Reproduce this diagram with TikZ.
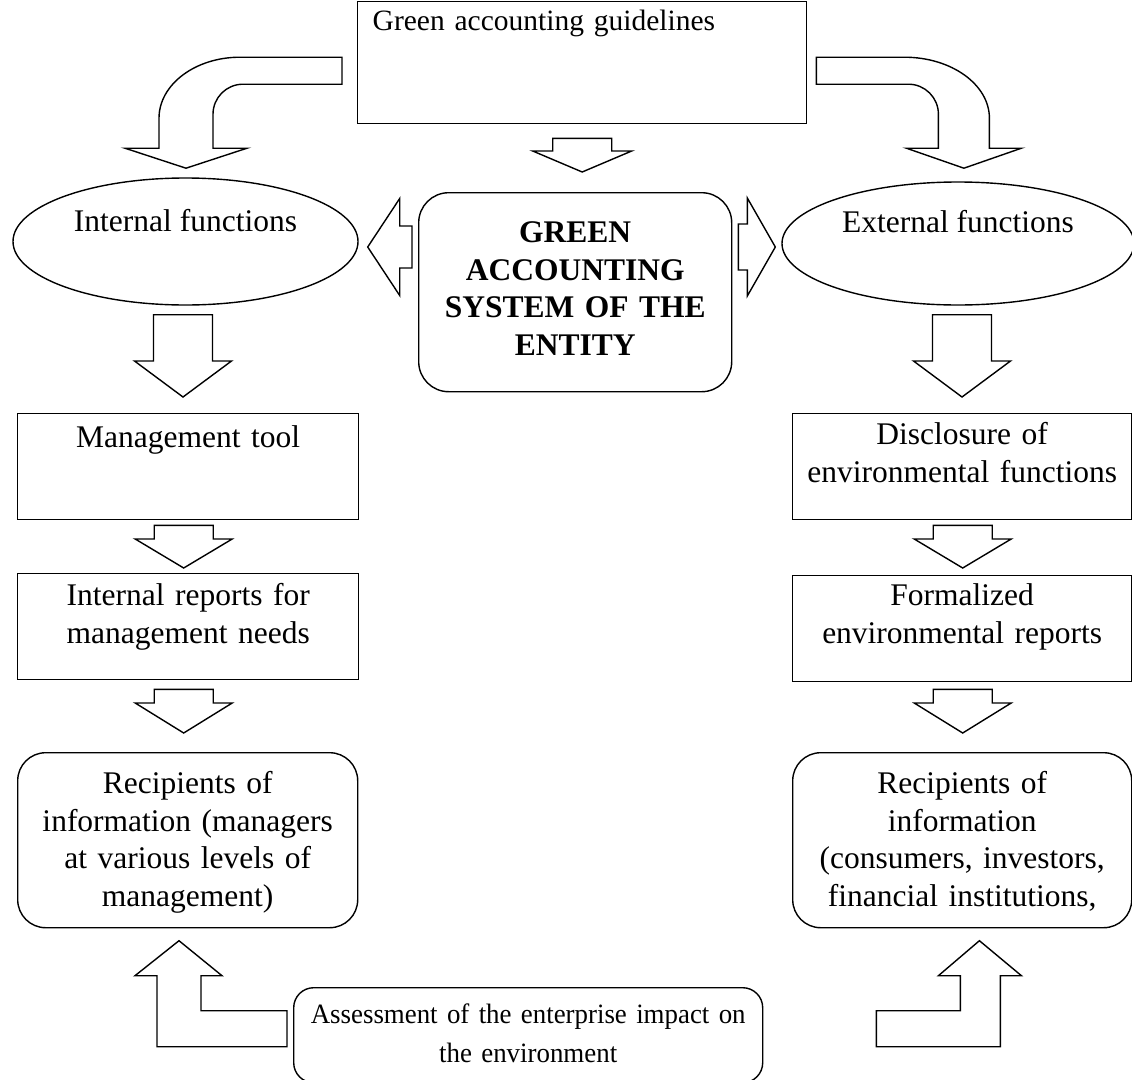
\documentclass[tikz,border=0pt]{standalone}
\usepackage{fontspec}
\setmainfont{Liberation Serif}
\newfontfamily\narrowserif[FakeStretch=0.96]{Liberation Serif}
\usetikzlibrary{shapes.geometric,calc}

\tikzset{
  box/.style={draw,line width=1.4pt,inner sep=0pt,anchor=north west,align=center,
    font=\fontsize{31.5}{37.5}\selectfont},
  rbox/.style={box,rounded corners=28pt},
  oval/.style={draw,ellipse,line width=1.4pt,inner sep=0pt,font=\fontsize{31.5}{37.5}\selectfont},
  blockarr/.style={draw,line width=1.4pt,fill=white},
}

% fat arrows: start, tip, half shaft, half head, head length
\newcommand{\blockdown}[5]{\draw[blockarr] let \p1=#1, \p2=#2 in
  (\x1-#3pt,\y1) -- (\x1+#3pt,\y1) -- (\x1+#3pt,\y2+#5pt) -- (\x1+#4pt,\y2+#5pt)
  -- (\x1,\y2) -- (\x1-#4pt,\y2+#5pt) -- (\x1-#3pt,\y2+#5pt) -- cycle;}
\newcommand{\blockleft}[5]{\draw[blockarr] let \p1=#1, \p2=#2 in
  (\x1,\y1-#3pt) -- (\x2+#5pt,\y1-#3pt) -- (\x2+#5pt,\y1-#4pt) -- (\x2,\y1)
  -- (\x2+#5pt,\y1+#4pt) -- (\x2+#5pt,\y1+#3pt) -- (\x1,\y1+#3pt) -- cycle;}
\newcommand{\blockright}[5]{\draw[blockarr] let \p1=#1, \p2=#2 in
  (\x1,\y1-#3pt) -- (\x2-#5pt,\y1-#3pt) -- (\x2-#5pt,\y1-#4pt) -- (\x2,\y1)
  -- (\x2-#5pt,\y1+#4pt) -- (\x2-#5pt,\y1+#3pt) -- (\x1,\y1+#3pt) -- cycle;}

\begin{document}
\begin{tikzpicture}[x=1pt,y=-1pt]
\useasboundingbox (0,0) rectangle (1132,1079);
\clip (0,0) rectangle (1132,1079);

\node[box,align=left,text width=449pt,text height=29pt,text depth=93pt,font=\fontsize{29.5}{37.5}\selectfont] (guide) at (357,1) {\hspace*{15pt}Green accounting guidelines};
\node[rbox,rounded corners=30pt,text width=313pt,text height=50pt,text depth=149pt,
  font=\fontsize{31.5}{37.5}\selectfont\bfseries] (gas) at (418,192) {GREEN\\ACCOUNTING\\SYSTEM OF THE\\ENTITY};
\node[oval,minimum width=345pt,minimum height=127pt,text height=22pt,text depth=43pt] (intf) at (185.5,241.5) {Internal functions};
\node[oval,minimum width=352pt,minimum height=123pt,text height=22pt,text depth=45pt] (extf) at (958,243.5) {External functions};

\node[box,text width=341pt,text height=34pt,text depth=72pt] (mtool) at (17,413) {Management tool};
\node[box,text width=341pt,text height=32pt,text depth=74pt] (irep) at (17,573) {Internal reports for\\management needs};
\node[rbox,text width=340pt,text height=41pt,text depth=134pt] (recl) at (17,752)
  {Recipients of\\information (managers\\at various levels of\\management)};

\node[box,text width=339pt,text height=31pt,text depth=75pt] (disc) at (792,413) {Disclosure of\\environmental functions};
\node[box,text width=339pt,text height=30pt,text depth=76pt] (frep) at (792,575) {Formalized\\environmental reports};
\node[rbox,text width=339pt,text height=41pt,text depth=134pt] (recr) at (792,752)
  {Recipients of\\information\\(consumers, investors,\\financial institutions,};

\node[rbox,rounded corners=20pt,text width=469pt,text height=36pt,text depth=59pt,
  font=\narrowserif\fontsize{28}{39}\selectfont] (assess) at (293,987) {Assessment of the enterprise impact on\\the environment};

\blockdown{($(guide.south)+(0,14)$)}{($(gas.north)+(0,-20)$)}{29.5}{49.5}{21}
\blockleft{($(gas.west |- intf.east)+(-6,5.5)$)}{($(intf.east)+(9,5.5)$)}{21}{48.5}{32}
\blockright{($(gas.east |- extf.west)+(6,3.5)$)}{($(extf.west)+(-6,3.5)$)}{23}{49}{28}

\blockdown{($(intf.south)+(-2.5,9)$)}{($(mtool.north)+(0,-16)$)}{29.5}{48.5}{36}
\blockdown{($(mtool.south)+(-4.5,5)$)}{($(irep.north)+(0,-5)$)}{29.5}{48.5}{29}
\blockdown{($(irep.south)+(-4.5,9)$)}{($(recl.north)+(0,-19)$)}{29.5}{48.5}{30}
\blockdown{($(extf.south)+(4,9)$)}{($(disc.north)+(0,-16)$)}{29.5}{48.5}{36}
\blockdown{($(disc.south)+(0.5,5)$)}{($(frep.north)+(0,-7)$)}{29.5}{48.5}{29}
\blockdown{($(frep.south)+(0.5,7)$)}{($(recr.north)+(0,-19)$)}{29.5}{48.5}{30}

\draw[blockarr] ($(guide.west)+(-15,-5.5)$) -- ++(-102,0)
  arc[start angle=90,end angle=180,x radius=81pt,y radius=61pt] -- ++(0,30) -- ++(-34,0)
  -- ++(61,20) -- ++(61,-20) -- ++(-34,0) -- ++(0,-34)
  arc[start angle=180,end angle=90,radius=30pt] -- ++(99,0) -- cycle;
\draw[blockarr] ($(guide.east)+(9,-5.5)$) -- ++(88,0)
  arc[start angle=90,end angle=0,x radius=85pt,y radius=61pt] -- ++(0,30) -- ++(32,0)
  -- ++(-57.5,20) -- ++(-57.5,-20) -- ++(32,0) -- ++(0,-34)
  arc[start angle=0,end angle=90,radius=30pt] -- ++(-92,0) -- cycle;

\draw[blockarr] ($(assess.west)+(-6,-24.5)$) -- ++(-86,0) -- ++(0,-35) -- ++(21,0)
  -- ++(-43,-35) -- ++(-44,35) -- ++(22,0) -- ++(0,71) -- ++(130,0) -- cycle;
\draw[blockarr] ($(assess.east)+(113,-24.5)$) -- ++(84,0) -- ++(0,-35) -- ++(-22,0)
  -- ++(41,-35) -- ++(42,35) -- ++(-21,0) -- ++(0,71) -- ++(-124,0) -- cycle;
\end{tikzpicture}
\end{document}
